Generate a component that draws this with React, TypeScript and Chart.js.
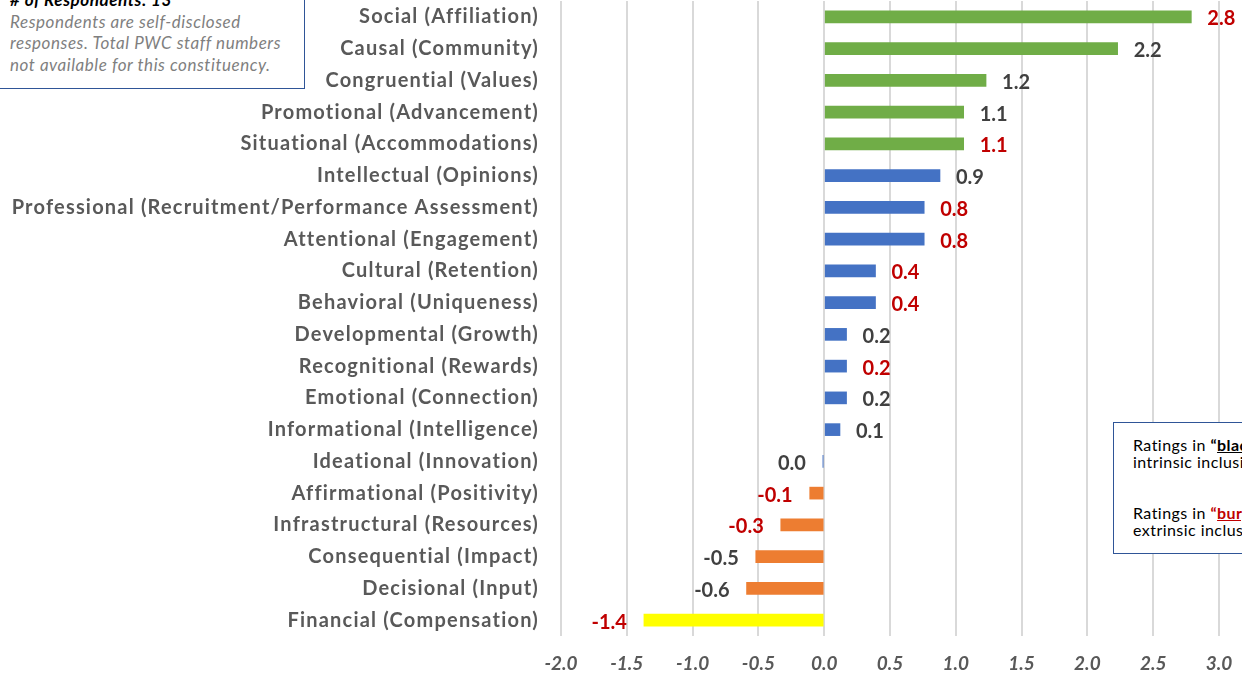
import React, { useEffect, useRef } from "react";
import { Chart, registerables } from "chart.js";

Chart.register(...registerables);

const categories = [
  "Social (Affiliation)",
  "Causal (Community)",
  "Congruential (Values)",
  "Promotional (Advancement)",
  "Situational (Accommodations)",
  "Intellectual (Opinions)",
  "Professional (Recruitment/Performance Assessment)",
  "Attentional (Engagement)",
  "Cultural (Retention)",
  "Behavioral (Uniqueness)",
  "Developmental (Growth)",
  "Recognitional (Rewards)",
  "Emotional (Connection)",
  "Informational (Intelligence)",
  "Ideational (Innovation)",
  "Affirmational (Positivity)",
  "Infrastructural (Resources)",
  "Consequential (Impact)",
  "Decisional (Input)",
  "Financial (Compensation)",
];

const values = [
  2.79, 2.23, 1.23, 1.06, 1.06, 0.88, 0.76, 0.76, 0.39, 0.39,
  0.17, 0.17, 0.17, 0.12, -0.01, -0.11, -0.33, -0.52, -0.59, -1.37,
];

// "green" = top group, "blue" = middle group, "orange" = negative, "yellow" = compensation
const barGroups = [
  "green", "green", "green", "green", "green",
  "blue", "blue", "blue", "blue", "blue", "blue", "blue", "blue", "blue", "blue",
  "orange", "orange", "orange", "orange", "yellow",
];

// true = burgundy (extrinsic) rating label, false = black (intrinsic)
const burgundyLabels = [
  true, false, false, false, true,
  false, true, true, true, true,
  false, true, false, false, false,
  true, true, false, false, true,
];

const xTicks = [-2.0, -1.5, -1.0, -0.5, 0.0, 0.5, 1.0, 1.5, 2.0, 2.5, 3.0];

const groupColors: Record<string, string> = {
  green: "#70AD47",
  blue: "#4472C4",
  orange: "#ED7D31",
  yellow: "#FFFF00",
};

const FONT = "Lato, 'Open Sans', sans-serif";

const dataLabelPlugin = {
  id: "dataLabels",
  afterDatasetsDraw(chart: any) {
    const ctx = chart.ctx;
    const meta = chart.getDatasetMeta(0);
    ctx.save();
    ctx.letterSpacing = "0px";
    ctx.font = `bold 20px ${FONT}`;
    ctx.textBaseline = "middle";
    meta.data.forEach((el: any, i: number) => {
      const v = values[i];
      const txt = (Math.round(v * 10) / 10).toFixed(1);
      ctx.fillStyle = burgundyLabels[i] ? "#C00000" : "#404040";
      if (v >= 0) {
        ctx.textAlign = "left";
        ctx.fillText(txt, el.x + 16, el.y + 2);
      } else {
        ctx.textAlign = "right";
        ctx.fillText(txt, el.x - 17, el.y + 2);
      }
    });
    ctx.restore();
    // category labels (drawn after datasets) get Calibri-like spacing
    ctx.letterSpacing = "1.2px";
  },
  afterDraw(chart: any) {
    chart.ctx.letterSpacing = "0px";
  },
  beforeDraw(chart: any) {
    chart.ctx.letterSpacing = "0px";
  },
};

function ChartCanvas() {
  const ref = useRef<HTMLCanvasElement>(null);
  useEffect(() => {
    if (!ref.current) return;
    const chart = new Chart(ref.current, {
      type: "bar",
      data: {
        labels: categories,
        datasets: [
          {
            data: values,
            backgroundColor: barGroups.map((g) => groupColors[g]),
            borderWidth: 0,
            barThickness: 12,
          },
        ],
      },
      options: {
        indexAxis: "y",
        animation: false,
        responsive: true,
        maintainAspectRatio: false,
        layout: { padding: { top: 1, right: 0, left: 0, bottom: 0 } },
        plugins: {
          legend: { display: false },
          tooltip: { enabled: false },
          title: { display: false },
        },
        scales: {
          x: {
            type: "linear",
            min: xTicks[0],
            max: 3.175,
            grid: { color: "#D9D9D9", lineWidth: 2, drawTicks: false },
            border: { display: false },
            afterFit: (scale: any) => {
              scale.height = 44;
              scale.paddingLeft = 0;
              scale.paddingRight = 0;
            },
            afterBuildTicks: (scale: any) => {
              scale.ticks = xTicks.map((v) => ({ value: v }));
            },
            ticks: {
              padding: 16,
              color: "#595959",
              font: { family: FONT, size: 19, weight: "bold", style: "italic" },
              callback: (v: any) => Number(v).toFixed(1),
            },
          },
          y: {
            grid: { display: false, drawTicks: false },
            border: { display: false },
            afterFit: (scale: any) => {
              scale.width = 561;
              scale.paddingTop = 0;
              scale.paddingBottom = 0;
            },
            ticks: {
              z: 1,
              padding: 22,
              autoSkip: false,
              color: "#595959",
              font: { family: FONT, size: 20, weight: "bold" },
            },
          },
        },
      },
      plugins: [dataLabelPlugin],
    } as any);
    return () => chart.destroy();
  }, []);
  return <canvas ref={ref} />;
}

export default function App() {
  return (
    <div
      style={{
        position: "fixed",
        left: 0,
        top: 0,
        width: 1242,
        height: 680,
        overflow: "hidden",
        background: "#FFFFFF",
      }}
    >
      <div style={{ position: "absolute", left: 0, top: 0, width: 1242, height: 680 }}>
        <ChartCanvas />
      </div>
      <div
        style={{
          position: "absolute",
          left: -2,
          top: -14,
          width: 307,
          height: 103,
          border: "1.5px solid #2F5597",
          boxSizing: "border-box",
          background: "#FFFFFF",
          fontFamily: FONT,
          fontStyle: "italic",
          fontSize: 17,
          letterSpacing: "0.55px",
          lineHeight: "21.7px",
          paddingLeft: 11,
          paddingTop: 2,
          whiteSpace: "nowrap",
        }}
      >
        <div style={{ fontWeight: "bold", color: "#000000" }}># of Respondents: 13</div>
        <div style={{ color: "#7F7F7F" }}>Respondents are self-disclosed</div>
        <div style={{ color: "#7F7F7F" }}>responses. Total PWC staff numbers</div>
        <div style={{ color: "#7F7F7F" }}>not available for this constituency.</div>
      </div>
      <div
        style={{
          position: "absolute",
          left: 1113,
          top: 422,
          width: 320,
          height: 132,
          border: "1.5px solid #2F5597",
          boxSizing: "border-box",
          background: "#FFFFFF",
          fontFamily: FONT,
          fontSize: 16,
          letterSpacing: "0.45px",
          lineHeight: "16.5px",
          color: "#000000",
          paddingLeft: 19,
          paddingTop: 14,
          whiteSpace: "nowrap",
        }}
      >
        <div>
          Ratings in <b>“<u>black</u>”</b> are considered
        </div>
        <div>intrinsic inclusion drivers.</div>
        <div style={{ height: 35 }} />
        <div>
          Ratings in <b style={{ color: "#C00000" }}>“<u>burgundy</u>”</b> are considered
        </div>
        <div>extrinsic inclusion drivers.</div>
      </div>
    </div>
  );
}
